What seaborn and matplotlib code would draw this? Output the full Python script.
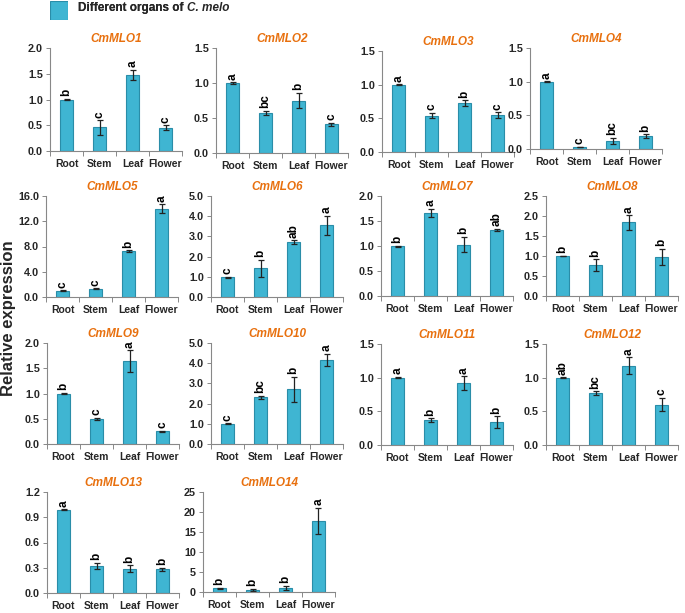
import matplotlib
matplotlib.use("Agg")
import matplotlib.pyplot as plt
import seaborn as sns
import numpy as np
import pandas as pd

sns.set_theme(style="white")
plt.rcParams['font.family'] = ['Liberation Sans', 'DejaVu Sans']

organs = ["Root", "Stem", "Leaf", "Flower"]
genes = ["CmMLO1", "CmMLO2", "CmMLO3", "CmMLO4", "CmMLO5", "CmMLO6", "CmMLO7",
         "CmMLO8", "CmMLO9", "CmMLO10", "CmMLO11", "CmMLO12", "CmMLO13", "CmMLO14"]

mlo1 = [1.00, 0.46, 1.48, 0.45]
mlo2 = [1.00, 0.57, 0.75, 0.41]
mlo3 = [1.00, 0.54, 0.73, 0.55]
mlo4 = [1.00, 0.03, 0.12, 0.19]
mlo5 = [1.00, 1.30, 7.30, 14.0]
mlo6 = [0.97, 1.42, 2.70, 3.55]
mlo7 = [1.00, 1.66, 1.03, 1.32]
mlo8 = [1.00, 0.77, 1.84, 0.98]
mlo9 = [1.00, 0.50, 1.64, 0.25]
mlo10 = [1.00, 2.32, 2.72, 4.18]
mlo11 = [1.00, 0.37, 0.92, 0.34]
mlo12 = [1.00, 0.77, 1.18, 0.60]
mlo13 = [0.99, 0.32, 0.29, 0.28]
mlo14 = [0.90, 0.50, 1.10, 17.8]

err1 = [0.01, 0.14, 0.10, 0.05]
err2 = [0.01, 0.03, 0.11, 0.02]
err3 = [0.005, 0.04, 0.04, 0.04]
err4 = [0.005, 0.005, 0.05, 0.03]
err5 = [0.05, 0.10, 0.10, 0.70]
err6 = [0.03, 0.42, 0.10, 0.47]
err7 = [0.01, 0.08, 0.15, 0.02]
err8 = [0.01, 0.15, 0.18, 0.20]
err9 = [0.01, 0.02, 0.22, 0.01]
err10 = [0.03, 0.08, 0.62, 0.30]
err11 = [0.01, 0.03, 0.10, 0.09]
err12 = [0.005, 0.03, 0.12, 0.10]
err13 = [0.005, 0.04, 0.04, 0.02]
err14 = [0.20, 0.30, 0.50, 3.30]

let1 = ["b", "c", "a", "c"]
let2 = ["a", "bc", "b", "c"]
let3 = ["a", "c", "b", "c"]
let4 = ["a", "c", "bc", "b"]
let5 = ["c", "c", "b", "a"]
let6 = ["c", "b", "ab", "a"]
let7 = ["b", "a", "b", "ab"]
let8 = ["b", "b", "a", "b"]
let9 = ["b", "c", "a", "c"]
let10 = ["c", "bc", "b", "a"]
let11 = ["a", "b", "a", "b"]
let12 = ["ab", "bc", "a", "c"]
let13 = ["a", "b", "b", "b"]
let14 = ["b", "b", "b", "a"]

ymax = [2.0, 1.5, 1.5, 1.5, 16.0, 5.0, 2.0, 2.5, 2.0, 5.0, 1.5, 1.5, 1.2, 25]
ystep = [0.5, 0.5, 0.5, 0.5, 4.0, 1.0, 0.5, 0.5, 0.5, 1.0, 0.5, 0.5, 0.3, 5]

values = [mlo1, mlo2, mlo3, mlo4, mlo5, mlo6, mlo7, mlo8, mlo9, mlo10, mlo11, mlo12, mlo13, mlo14]
errors = [err1, err2, err3, err4, err5, err6, err7, err8, err9, err10, err11, err12, err13, err14]
letters = [let1, let2, let3, let4, let5, let6, let7, let8, let9, let10, let11, let12, let13, let14]

W, H = 685, 613
fig = plt.figure(figsize=(W / 100, H / 100), dpi=100)

# pixel layout (left, top, bottom) of each axes
lefts = [50, 216, 382, 530, 46, 211, 381, 546, 47, 211, 381, 546, 47, 203]
tops = [48, 48, 51, 48, 196, 196, 196, 196, 343, 343, 344, 344, 492, 492]
bottoms = [151, 153, 152, 149, 297, 297, 296, 296, 444, 444, 445, 445, 593, 592]
aw = 132

bar_color = "#3FB5D2"
edge_color = "#2A8DA8"
title_color = "#E8700E"

for i in range(14):
    l, t, b = lefts[i], tops[i], bottoms[i]
    ax = fig.add_axes([l / W, 1 - b / H, aw / W, (b - t) / H])
    df = pd.DataFrame({"organ": organs, "value": values[i]})
    sns.barplot(data=df, x="organ", y="value", ax=ax, color=bar_color,
                width=0.4, saturation=1, edgecolor=edge_color, linewidth=0.8)
    ax.errorbar(range(4), values[i], yerr=errors[i], fmt="none", ecolor="#222222",
                elinewidth=0.9, capsize=2.2, capthick=0.9)
    top = ymax[i]
    for j in range(4):
        ax.text(j, values[i][j] + errors[i][j] + top * 0.025, letters[i][j],
                rotation=90, ha="center", va="bottom", fontsize=8.5, fontweight="bold",
                color="black")
    ax.set_xlim(-0.5, 3.5)
    ax.set_ylim(0, top)
    ticks = np.arange(0, top + 1e-9, ystep[i])
    ax.set_yticks(ticks)
    if i == 13:
        ax.set_yticklabels([f"{v:.0f}" for v in ticks])
    else:
        ax.set_yticklabels([f"{v:.1f}" for v in ticks])
    ax.set_xlabel("")
    ax.set_ylabel("")
    ax.set_xticks(range(4))
    ax.set_xticklabels(organs)
    ax.set_xticks([-0.5, 0.5, 1.5, 2.5, 3.5], minor=True)
    ax.tick_params(axis="x", which="major", length=0, pad=6, labelsize=7.5)
    ax.tick_params(axis="x", which="minor", length=3.5, width=0.7, color="#888888", direction="out", bottom=True)
    ax.tick_params(axis="y", length=3, width=0.7, color="#888888", direction="out", left=True, labelsize=7.8, pad=2)
    for lab in ax.get_xticklabels() + ax.get_yticklabels():
        lab.set_fontweight("bold")
    for s in ["top", "right"]:
        ax.spines[s].set_visible(False)
    for s in ["left", "bottom"]:
        ax.spines[s].set_color("#888888")
        ax.spines[s].set_linewidth(0.8)
    ax.set_title(genes[i], color=title_color, fontsize=8.5, fontweight="bold",
                 style="italic", pad=4)

# legend
lg = fig.add_axes([50 / W, 1 - 20 / H, 18 / W, 19 / H])
lg.add_patch(plt.Rectangle((0, 0), 1, 1, facecolor=bar_color, edgecolor=edge_color, linewidth=0.8))
lg.set_xlim(0, 1)
lg.set_ylim(0, 1)
lg.axis("off")
t1 = fig.text(78 / W, 1 - 8 / H, "Different organs of ", fontsize=8.5, fontweight="bold",
              va="center", ha="left")
fig.texts.append(t1)
lg.annotate("C. melo", xy=(1, 0.5), xycoords=t1, fontsize=8.5, fontweight="bold",
            style="italic", va="center", ha="left", annotation_clip=False)

fig.text(9 / W, 1 - 318 / H, "Relative expression", rotation=90, fontsize=12,
         fontweight="bold", ha="center", va="center")

fig.savefig("out.png", dpi=100)
